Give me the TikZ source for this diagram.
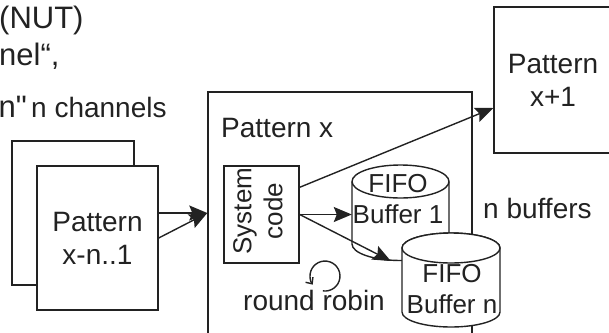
\documentclass[tikz,border=0pt]{standalone}
\usepackage{fontspec}
\setmainfont{Liberation Sans}
\newfontfamily\plainsans{Liberation Sans}
\usetikzlibrary{arrows.meta,positioning,calc}
\definecolor{inkGray}{RGB}{34,34,34}

\begin{document}
\begin{tikzpicture}[x=1pt,y=-1pt,
    box/.style={draw=inkGray,line width=1.4pt,fill=white,inner sep=0pt},
    cyl/.style={draw=inkGray,line width=1.4pt,fill=white},
    lbl/.style={font=\fontsize{28}{33}\selectfont,text=inkGray,align=center,inner sep=0pt},
    buftxt/.style={font=\fontsize{26}{31}\selectfont,text=inkGray,align=center,inner sep=0pt},
    captxt/.style={font=\plainsans\fontsize{31}{37}\selectfont,text=inkGray,inner sep=0pt,anchor=base west},
    flow/.style={draw=inkGray,line width=1.4pt,-{Stealth[length=18pt,width=15pt,inset=3pt]}},
    rr/.style={draw=inkGray,line width=1.4pt,-{Straight Barb[length=5pt,width=9pt]}}
  ]
    \useasboundingbox (0,0) rectangle (609,332);
    \clip (0,0) rectangle (609,332);

    % bout de texte coupé en haut à gauche
    \node[captxt] (capa) at (-1,28) {(NUT)};
    \node[captxt] (capb) at (-1,65) {nel“,};
    \node[captxt] (capc) at (-1.5,117) {n"};
    \node[lbl,anchor=base west] (chan) at (31,117) {n channels};

    % patterns précédents -> pattern x
    \node[box,minimum width=122pt,minimum height=144pt] (back) at (73,213) {};
    \node[box,minimum width=264pt,minimum height=253pt] (px) at (340,218.5) {};
    \coordinate (inx) at (px.west |- back.east);
    \draw[flow] (back.east) -- (inx);
    \node[box,lbl,minimum width=121pt,minimum height=144pt] (front) at (97.5,238) {Pattern\\x-n..1};
    \draw[flow] (front.east) -- (inx);

    \node[lbl,anchor=base west] (pxtitle) at (221,137) {Pattern x};
    \node[box,lbl,minimum width=118pt,minimum height=146pt] (pnext) at (553,80) {Pattern\\x+1};

    % system code
    \node[box,minimum width=75pt,minimum height=97pt] (sys) at (261.5,214.5) {};
    \node[buftxt,rotate=90] (systxt) at (258,211) {System\\code};

    % buffer 1
    \draw[cyl] (352,181.5) -- (352,244)
      arc[start angle=180,end angle=0,x radius=48.5,y radius=16.5] -- (449,181.5);
    \draw[cyl] (400.5,181.5) ellipse[x radius=48.5,y radius=16.5];
    \node[buftxt,minimum width=92pt] (buf1) at (398,199.5) {FIFO\\Buffer 1};

    \draw[flow] (sys.east) -- (sys.east -| buf1.west);
    \draw[flow] ([yshift=-22pt]sys.north east) -- ([yshift=-28pt]pnext.west);

    % buffer n
    \draw[cyl] (402,248) -- (402,312)
      arc[start angle=180,end angle=0,x radius=49,y radius=15] -- (500,248)
      arc[start angle=0,end angle=-180,x radius=49,y radius=15] -- cycle;
    \draw[cyl] (451,248) ellipse[x radius=49,y radius=15];
    \node[buftxt,minimum width=98pt] (bufn) at (452,289.5) {FIFO\\Buffer n};
    \draw[flow] (sys.east) -- ([xshift=-12pt,yshift=28.5pt]bufn.west);

    % round robin
    \draw[rr] (322.9,290.9) arc[start angle=98,end angle=-215,radius=15];
    \node[lbl,anchor=base west] (rrtxt) at (243,310) {round robin};
    \node[lbl,anchor=base west] (nbuf) at (483,218) {n buffers};
\end{tikzpicture}
\end{document}
